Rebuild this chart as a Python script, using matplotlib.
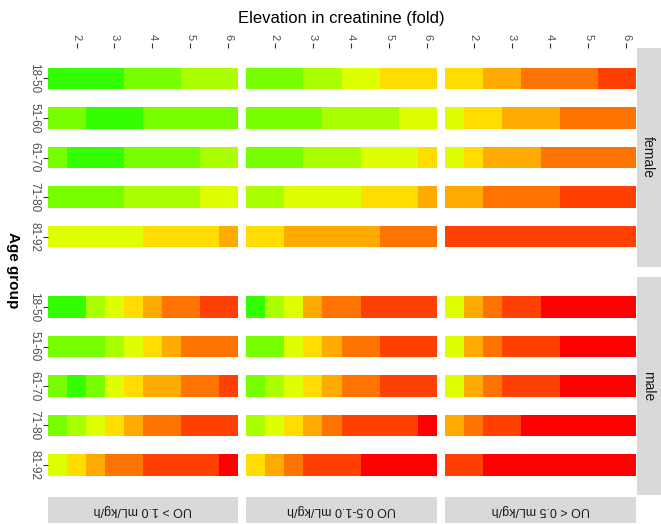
import matplotlib
matplotlib.use("Agg")
import matplotlib.pyplot as plt

plt.rcParams['font.family'] = ['Liberation Sans', 'DejaVu Sans']

# ---- data -------------------------------------------------------------
age_groups = ["18-50", "51-60", "61-70", "71-80", "81-92"]
uo_groups = ["UO > 1.0 mL/kg/h", "UO 0.5-1.0 mL/kg/h", "UO < 0.5 mL/kg/h"]
sexes = ["female", "male"]
fold_values = [1.5, 2.0, 2.5, 3.0, 3.5, 4.0, 4.5, 5.0, 5.5, 6.0]
fold_ticks = [2, 3, 4, 5, 6]

# risk level (0 = lowest ... 8 = highest) per age group and fold value
female_uo_high = [
    [0, 0, 0, 0, 1, 1, 1, 2, 2, 2],
    [1, 1, 0, 0, 0, 1, 1, 1, 1, 1],
    [1, 0, 0, 0, 1, 1, 1, 1, 2, 2],
    [1, 1, 1, 1, 2, 2, 2, 2, 3, 3],
    [3, 3, 3, 3, 3, 4, 4, 4, 4, 5],
]
female_uo_mid = [
    [1, 1, 1, 2, 2, 3, 3, 4, 4, 4],
    [1, 1, 1, 1, 2, 2, 2, 2, 3, 3],
    [1, 1, 1, 2, 2, 2, 3, 3, 3, 4],
    [2, 2, 3, 3, 3, 3, 4, 4, 4, 5],
    [4, 4, 5, 5, 5, 5, 5, 6, 6, 6],
]
female_uo_low = [
    [4, 4, 5, 5, 6, 6, 6, 6, 7, 7],
    [3, 4, 4, 5, 5, 5, 6, 6, 6, 6],
    [3, 4, 5, 5, 5, 6, 6, 6, 6, 6],
    [5, 5, 6, 6, 6, 6, 7, 7, 7, 7],
    [7, 7, 7, 7, 7, 7, 7, 7, 7, 7],
]
male_uo_high = [
    [0, 0, 2, 3, 4, 5, 6, 6, 7, 7],
    [1, 1, 1, 2, 3, 4, 5, 6, 6, 6],
    [1, 0, 1, 3, 4, 5, 5, 6, 6, 7],
    [1, 2, 3, 4, 5, 6, 6, 7, 7, 7],
    [3, 4, 5, 6, 6, 7, 7, 7, 7, 8],
]
male_uo_mid = [
    [0, 2, 3, 5, 6, 6, 7, 7, 7, 7],
    [1, 1, 3, 4, 5, 6, 6, 7, 7, 7],
    [1, 2, 3, 4, 5, 6, 6, 7, 7, 7],
    [2, 3, 4, 5, 6, 7, 7, 7, 7, 8],
    [4, 5, 6, 7, 7, 7, 8, 8, 8, 8],
]
male_uo_low = [
    [3, 5, 6, 7, 7, 8, 8, 8, 8, 8],
    [3, 5, 6, 7, 7, 7, 8, 8, 8, 8],
    [3, 5, 6, 7, 7, 7, 8, 8, 8, 8],
    [5, 6, 7, 7, 8, 8, 8, 8, 8, 8],
    [7, 7, 8, 8, 8, 8, 8, 8, 8, 8],
]

panels = [
    [female_uo_high, female_uo_mid, female_uo_low],
    [male_uo_high, male_uo_mid, male_uo_low],
]

# green -> red fill scale
level_colors = ["#33FF00", "#77FF00", "#AAFF00", "#DDFF00", "#FFDD00",
                "#FFAA00", "#FF7400", "#FF4000", "#FF0000"]

# ---- layout (pixels) ----------------------------------------------------
W, H = 661, 524
fig = plt.figure(figsize=(W / 100, H / 100), dpi=100)
fig.patch.set_facecolor("white")

col_x = [(48, 238), (246, 437), (445, 636)]
row_y = [(48, 267), (277, 495)]
strip_right = (637, 661)
strip_bottom = (497, 523)


def fig_rect(x0, x1, y0, y1):
    return [x0 / W, 1 - y1 / H, (x1 - x0) / W, (y1 - y0) / H]


def level_runs(row):
    """Group consecutive tiles that share a level: (start index, count, level)."""
    runs = []
    start = 0
    for j in range(1, len(row) + 1):
        if j == len(row) or row[j] != row[start]:
            runs.append((start, j - start, row[start]))
            start = j
    return runs


tile_w = fold_values[1] - fold_values[0]
text_gray = "#4D4D4D"

for r, sex in enumerate(sexes):
    for c, uo in enumerate(uo_groups):
        x0, x1 = col_x[c]
        y0, y1 = row_y[r]
        ax = fig.add_axes(fig_rect(x0, x1, y0, y1))
        ax.set_facecolor("white")
        grid = panels[r][c]
        for i, row in enumerate(grid):
            for start, count, lvl in level_runs(row):
                ax.barh(i, count * tile_w, left=fold_values[start] - tile_w / 2,
                        height=0.55, color=level_colors[lvl], linewidth=0)
        ax.set_xlim(fold_values[0] - tile_w / 2, fold_values[-1] + tile_w / 2)
        ax.set_ylim(len(age_groups) - 1 + 0.77, -0.77)
        for s in ax.spines.values():
            s.set_visible(False)

        if r == 0:
            ax.xaxis.tick_top()
            ax.set_xticks(fold_ticks)
            ax.set_xticklabels([str(t) for t in fold_ticks], rotation=-90,
                               fontsize=8, color=text_gray)
            ax.tick_params(axis="x", length=3.5, width=0.8, color="#333333", pad=2)
        else:
            ax.set_xticks([])

        if c == 0:
            ax.set_yticks(range(len(age_groups)))
            ax.set_yticklabels(age_groups, rotation=-90, fontsize=8.5,
                               color=text_gray, va="center")
            ax.tick_params(axis="y", length=3.5, width=0.8, color="#333333", pad=2)
        else:
            ax.set_yticks([])

    # facet strip on the right
    sx = fig.add_axes(fig_rect(strip_right[0], strip_right[1], row_y[r][0], row_y[r][1]))
    sx.set_facecolor("#D9D9D9")
    sx.set_xticks([]); sx.set_yticks([])
    for s in sx.spines.values():
        s.set_visible(False)
    sx.text(0.45, 0.5, sex, rotation=-90, ha="center", va="center",
            fontsize=10, color="#1A1A1A", transform=sx.transAxes)

# facet strips along the bottom
for c, uo in enumerate(uo_groups):
    bx = fig.add_axes(fig_rect(col_x[c][0], col_x[c][1], strip_bottom[0], strip_bottom[1]))
    bx.set_facecolor("#D9D9D9")
    bx.set_xticks([]); bx.set_yticks([])
    for s in bx.spines.values():
        s.set_visible(False)
    bx.text(0.5, 0.5, uo, rotation=180, ha="center", va="center",
            fontsize=9, color="#1A1A1A", transform=bx.transAxes)

# axis titles
fig.text(341 / W, 1 - 18.5 / H, "Elevation in creatinine (fold)",
         ha="center", va="center", fontsize=12, color="black")
fig.text(13 / W, 1 - 270 / H, "Age group", rotation=-90,
         ha="center", va="center", fontsize=11, fontweight="bold", color="black")

fig.savefig("out.png", dpi=100, facecolor="white")
